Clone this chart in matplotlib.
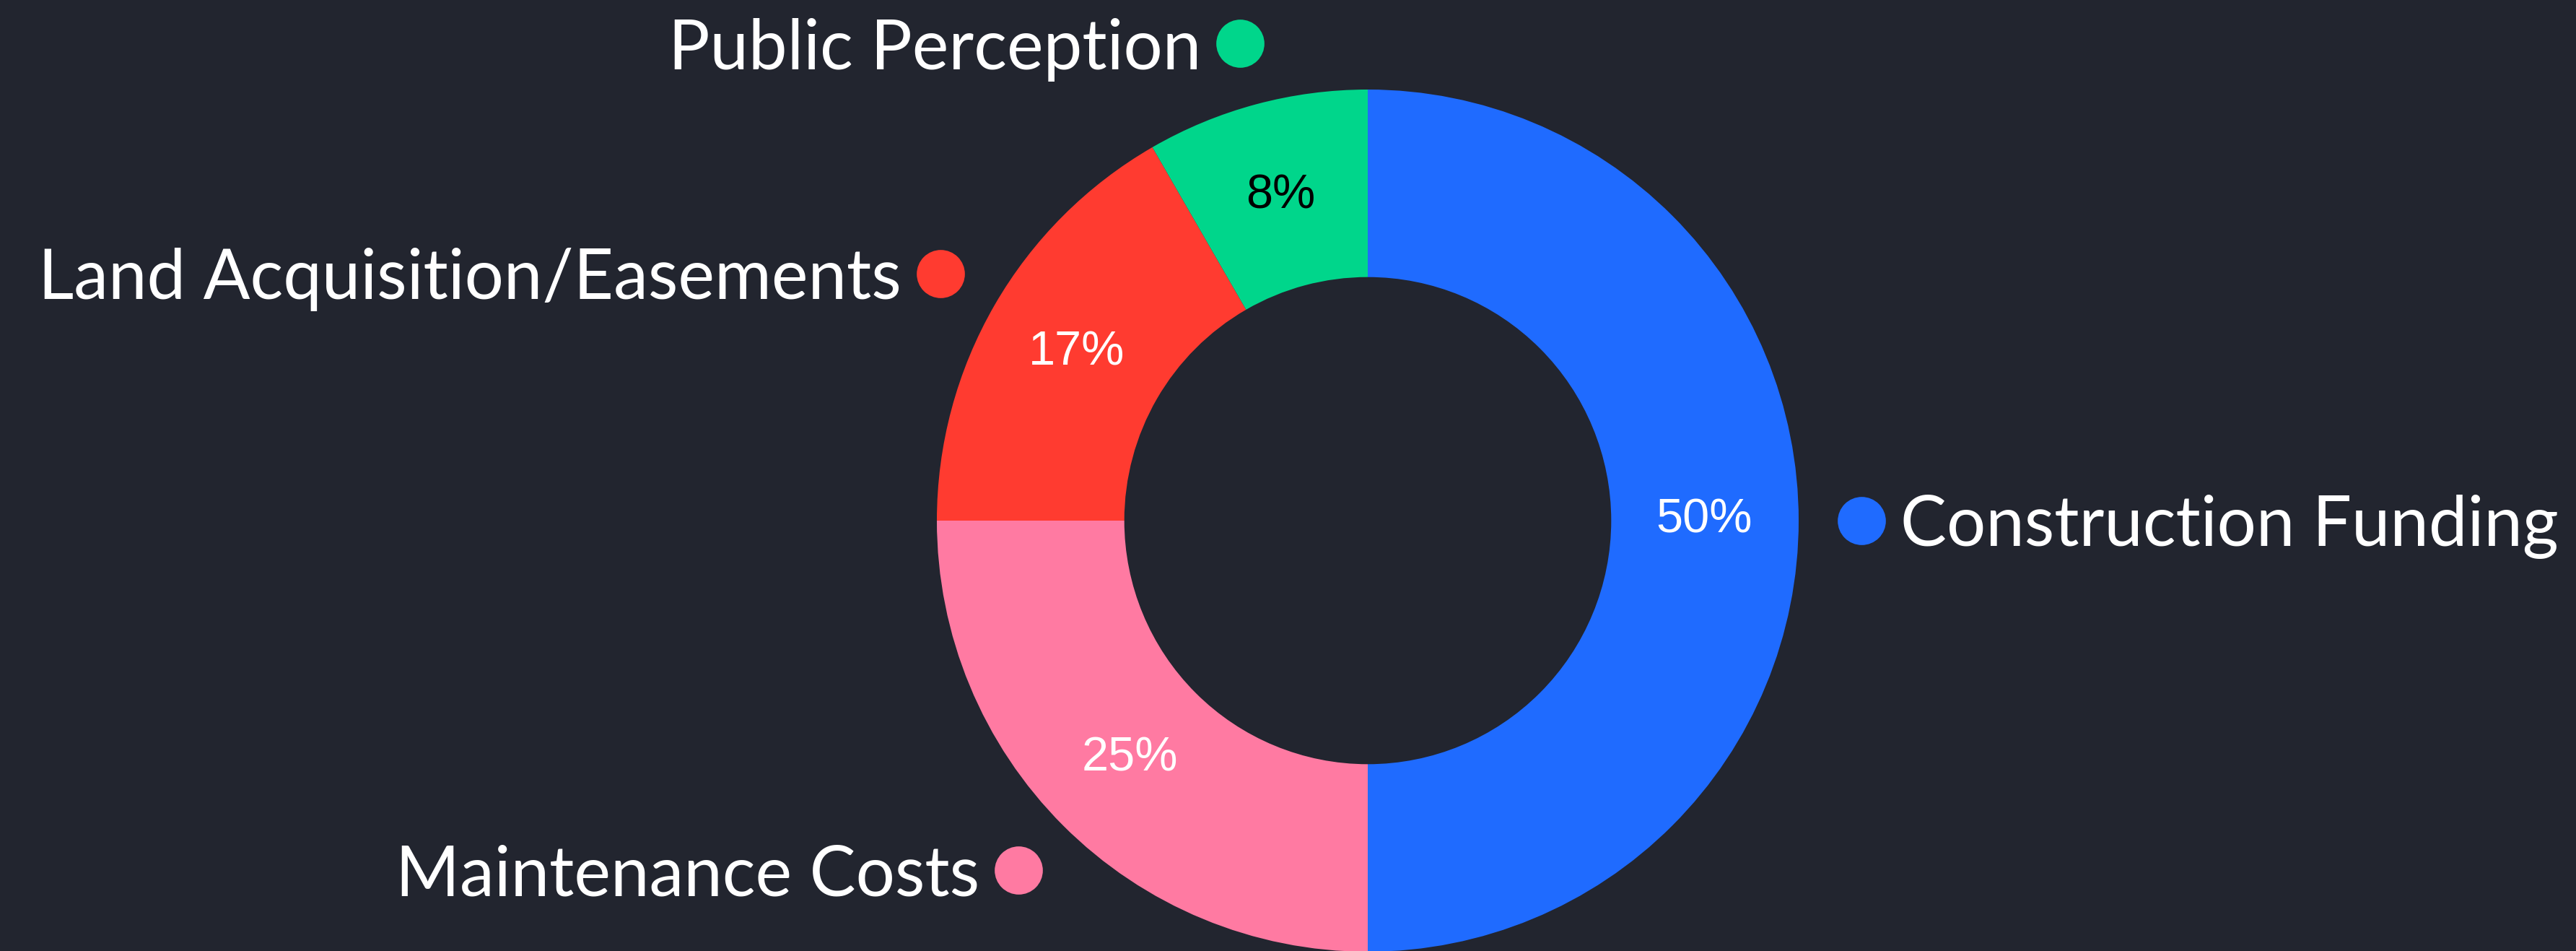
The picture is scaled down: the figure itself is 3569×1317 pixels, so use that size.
import numpy as np
import matplotlib
matplotlib.use('Agg')
import matplotlib.pyplot as plt

# data
categories = ['Construction Funding', 'Maintenance Costs', 'Land Acquisition/Easements', 'Public Perception']
shares = [50, 25, 16.67, 8.33]
colors = ['#1F6BFF', '#FF7AA2', '#FF3B30', '#00D68B']
pct_colors = ['white', 'white', 'white', 'black']

bg = '#22252F'
W, H, dpi = 3569, 1317, 100
cx, cy, R = 1895, 721, 597  # pixel centre / outer radius

fig = plt.figure(figsize=(W / dpi, H / dpi), dpi=dpi, facecolor=bg)
ax = fig.add_axes([0, 0, 1, 1])
ax.set_facecolor(bg)

wedges, _, autotexts = ax.pie(shares, colors=colors, startangle=90, counterclock=False,
                              autopct='%1.0f%%', pctdistance=0.78,
                              wedgeprops=dict(width=0.435, linewidth=0),
                              textprops=dict(fontsize=48, family='Liberation Sans'))
for t, c in zip(autotexts, pct_colors):
    t.set_color(c)

# outside labels with coloured dot
r_lab = 1.146
for w, name, col in zip(wedges, categories, colors):
    ang = np.deg2rad((w.theta1 + w.theta2) / 2)
    x, y = r_lab * np.cos(ang), r_lab * np.sin(ang)
    ax.plot(x, y, 'o', ms=48, color=col, mec='none')
    off = 54 / R
    if x >= 0:
        ax.text(x + off, y, name, ha='left', va='center_baseline', fontsize=69,
                color='white', family='Lato')
    else:
        ax.text(x - off, y, name, ha='right', va='center_baseline', fontsize=69,
                color='white', family='Lato')

ax.set_xlim(-cx / R, (W - cx) / R)
ax.set_ylim(-(H - cy) / R, cy / R)
ax.set_aspect('auto')
ax.axis('off')

fig.savefig('out.png', dpi=dpi, facecolor=bg)
